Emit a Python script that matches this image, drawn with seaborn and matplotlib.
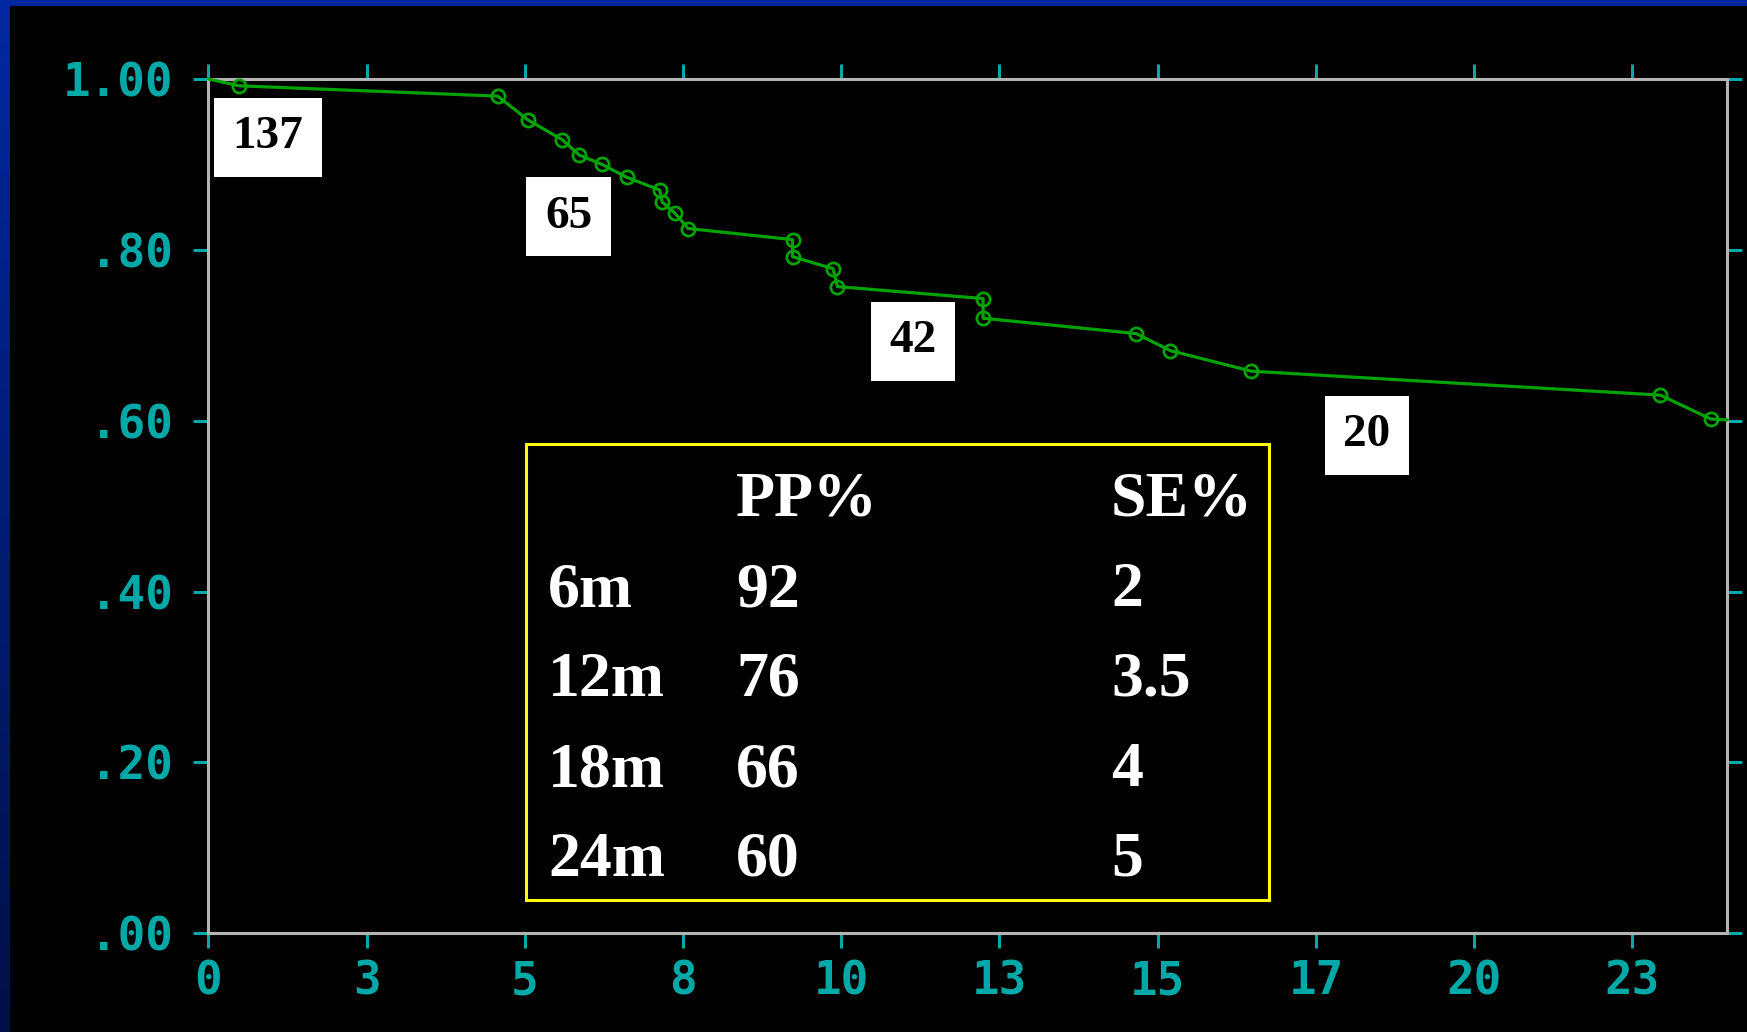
import matplotlib
matplotlib.use("Agg")
import numpy as np
import pandas as pd
import matplotlib.pyplot as plt
from matplotlib.patches import Rectangle
import seaborn as sns

# Event-free curve (months vs. proportion), censored observations marked
months = [0.0, 0.49, 4.57, 5.05, 5.59, 5.86, 6.22, 6.61, 7.13, 7.17, 7.37, 7.58,
          9.23, 9.23, 9.87, 9.94, 12.24, 12.24, 14.66, 15.20, 16.48, 22.94, 23.74, 24.0]
survival = [1.000, 0.992, 0.980, 0.952, 0.929, 0.911, 0.900, 0.885, 0.870, 0.856,
            0.843, 0.825, 0.812, 0.792, 0.778, 0.757, 0.743, 0.720, 0.702, 0.682,
            0.658, 0.630, 0.602, 0.601]
censored = [False] + [True] * 22 + [False]

# Numbers at risk
at_risk = [137, 65, 42, 20]

# Summary table
periods = ["6m", "12m", "18m", "24m"]
pp_pct = [92, 76, 66, 60]
se_pct = [2, 3.5, 4, 5]

# Axis ticks
x_tick_pos = [0, 2.5, 5, 7.5, 10, 12.5, 15, 17.5, 20, 22.5]
x_tick_labels = ["0", "3", "5", "8", "10", "13", "15", "17", "20", "23"]
y_tick_pos = [0.0, 0.2, 0.4, 0.6, 0.8, 1.0]
y_tick_labels = [".00", ".20", ".40", ".60", ".80", "1.00"]

# Placement of the at-risk boxes (month, proportion)
risk_box_xy = [(0.94, 0.932), (5.69, 0.839), (11.13, 0.693), (18.30, 0.583)]

GREEN = "#00a300"
CYAN = "#00a8a8"
SPINE = "#b4b4b4"
SERIF = "Liberation Serif"
MONO = "DejaVu Sans Mono"

sns.set_style("ticks")

W, H = 1747, 1032
fig = plt.figure(figsize=(W / 100, H / 100), dpi=100)
fig.patch.set_facecolor("black")

# Slide background: blue gradient frame on the top and left edges
bg = fig.add_axes([0, 0, 1, 1], zorder=-10)
top_rgb = np.array([0, 40, 160]) / 255
bot_rgb = np.array([0, 16, 72]) / 255
t = np.linspace(0, 1, 256)[:, None, None]
grad = top_rgb[None, None, :] * (1 - t) + bot_rgb[None, None, :] * t
bg.imshow(grad, aspect="auto", extent=[0, 1, 0, 1])
bg.add_patch(Rectangle((10 / W, 0), 1, 1 - 6 / H, transform=bg.transAxes,
                       fc="black", ec="none", zorder=5))
bg.set_xlim(0, 1)
bg.set_ylim(0, 1)
bg.axis("off")

ax = fig.add_axes([208.4 / W, (H - 933.3) / H, (1727.3 - 208.4) / W, (933.3 - 79) / H])
ax.set_facecolor("black")

df = pd.DataFrame({"months": months, "survival": survival, "censored": censored})
marked = [i for i, c in enumerate(censored) if c]

sns.lineplot(data=df, x="months", y="survival", ax=ax, sort=False, estimator=None,
             color=GREEN, linewidth=2.3, marker="o", markersize=9.5,
             markerfacecolor="none", markeredgecolor=GREEN, markeredgewidth=2.0,
             markevery=marked, clip_on=False, zorder=3)

ax.set_xlim(0, 24)
ax.set_ylim(0, 1)
ax.set_xlabel("")
ax.set_ylabel("")

for side in ["left", "right", "top", "bottom"]:
    ax.spines[side].set_visible(True)
    ax.spines[side].set_color(SPINE)
    ax.spines[side].set_linewidth(2.2)

ax.set_xticks(x_tick_pos)
ax.set_xticklabels(x_tick_labels, fontfamily=MONO, fontweight="bold")
ax.set_yticks(y_tick_pos)
ax.set_yticklabels(y_tick_labels, fontfamily=MONO, fontweight="bold")
ax.tick_params(axis="both", direction="out", length=10.8, width=2.2, color=CYAN,
               labelcolor=CYAN, labelsize=33, top=True, right=True,
               labeltop=False, labelright=False)
ax.tick_params(axis="x", pad=8.0)
ax.tick_params(axis="y", pad=14.5)

# Numbers at risk in white boxes
for n, (bx, by) in zip(at_risk, risk_box_xy):
    ax.text(bx, by, str(n), ha="center", va="center", fontsize=34,
            fontweight="bold", family=SERIF, color="black", zorder=6,
            bbox=dict(boxstyle="square,pad=0.39", fc="white", ec="none"))

# Summary table of event-free proportion and standard error
x0, x1 = 5.019, 16.76
y0, y1 = 0.039, 0.5722
ax.add_patch(Rectangle((x0, y0), x1 - x0, y1 - y0, fc="none", ec="#ffff00",
                       lw=2.2, zorder=4))
col_x = [5.367, 8.337, 14.263]
row_y = [0.4885, 0.3831, 0.2778, 0.1724, 0.0671]
txt_kw = dict(ha="left", va="baseline", fontsize=46, fontweight="bold",
              family=SERIF, color="white", zorder=5)
ax.text(col_x[1], row_y[0], "PP%", **txt_kw)
ax.text(col_x[2], row_y[0], "SE%", **txt_kw)
for i, (p, v, s) in enumerate(zip(periods, pp_pct, se_pct)):
    ax.text(col_x[0], row_y[i + 1], p, **txt_kw)
    ax.text(col_x[1], row_y[i + 1], f"{v}", **txt_kw)
    ax.text(col_x[2], row_y[i + 1], f"{s:g}", **txt_kw)

fig.savefig("out.png", dpi=100, facecolor=fig.get_facecolor())
